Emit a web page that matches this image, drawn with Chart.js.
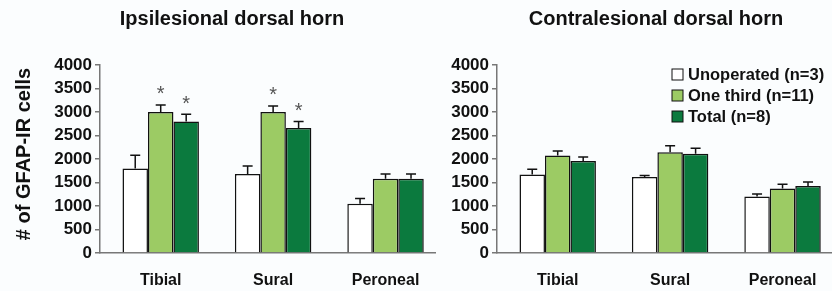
<!DOCTYPE html>
<html><head><meta charset="utf-8">
<script src="https://cdn.jsdelivr.net/npm/chart.js@4.4.1/dist/chart.umd.min.js"></script>
<style>
html,body{margin:0;padding:0;background:#fbfdfe;}
#wrap{position:relative;width:832px;height:291px;}
#c1{position:absolute;left:0;top:0;}
#c2{position:absolute;left:440px;top:0;}
</style></head>
<body><div id="wrap">
<canvas id="c1" width="440" height="291"></canvas>
<canvas id="c2" width="392" height="291"></canvas>
</div>
<script>
const categories = ['Tibial', 'Sural', 'Peroneal'];
const seriesNames = ['Unoperated (n=3)', 'One third (n=11)', 'Total (n=8)'];
const yTicks = [0, 500, 1000, 1500, 2000, 2500, 3000, 3500, 4000];
const yAxisTitle = '# of GFAP-IR cells';

// Ipsilesional dorsal horn
const ipsiUnoperated = [1800, 1680, 1050];
const ipsiOneThird   = [3000, 3000, 1580];
const ipsiTotal      = [2800, 2660, 1580];
const ipsiUnoperatedErr = [2080, 1850, 1160];
const ipsiOneThirdErr   = [3150, 3130, 1680];
const ipsiTotalErr      = [2950, 2800, 1680];
const ipsiSigUnoperated = [false, false, false];
const ipsiSigOneThird   = [true, true, false];
const ipsiSigTotal      = [true, true, false];

// Contralesional dorsal horn
const contraUnoperated = [1670, 1615, 1200];
const contraOneThird   = [2075, 2145, 1370];
const contraTotal      = [1955, 2110, 1425];
const contraUnoperatedErr = [1780, 1650, 1255];
const contraOneThirdErr   = [2170, 2280, 1465];
const contraTotalErr      = [2040, 2230, 1510];

const categoryIndex = categories.map((c, i) => i);
const colors = ['#ffffff', '#9ccb64', '#0b7a3e'];
const FONT = "'Liberation Sans', Arial, sans-serif";

const errPlugin = {
  id: 'errbars',
  afterDatasetsDraw(chart) {
    const ctx = chart.ctx, ys = chart.scales.y;
    chart.data.datasets.forEach((ds, di) => {
      const meta = chart.getDatasetMeta(di);
      meta.data.forEach((el, i) => {
        const yTop = el.y;
        const yErr = ys.getPixelForValue(ds.err[i]);
        ctx.save();
        ctx.strokeStyle = '#111';
        ctx.lineWidth = 1.5;
        ctx.beginPath();
        ctx.moveTo(el.x, yTop); ctx.lineTo(el.x, yErr);
        ctx.moveTo(el.x - 5, yErr); ctx.lineTo(el.x + 5, yErr);
        ctx.stroke();
        if (ds.sig && ds.sig[i]) {
          ctx.fillStyle = '#555';
          ctx.font = '20px ' + FONT;
          ctx.textAlign = 'center';
          ctx.textBaseline = 'middle';
          ctx.fillText('*', el.x, yErr - 10);
        }
        ctx.restore();
      });
    });
  }
};

const decoPlugin = {
  id: 'deco',
  afterDraw(chart) {
    const o = chart.options.plugins.deco;
    const ctx = chart.ctx;
    ctx.save();
    ctx.fillStyle = '#111';
    ctx.font = 'bold 20px ' + FONT;
    ctx.textAlign = 'center';
    ctx.textBaseline = 'middle';
    ctx.fillText(o.title, o.titleX, 19);
    if (o.yTitle) {
      ctx.save();
      ctx.translate(24, (chart.chartArea.top + chart.chartArea.bottom) / 2 - 5);
      ctx.rotate(-Math.PI / 2);
      ctx.font = 'bold 20px ' + FONT;
      ctx.fillText(yAxisTitle, 0, 0);
      ctx.restore();
    }
    if (o.legend) {
      ctx.font = 'bold 16.5px ' + FONT;
      ctx.textAlign = 'left';
      chart.data.datasets.forEach((ds, i) => {
        const y = o.legendY + i * 21;
        ctx.fillStyle = ds.backgroundColor;
        ctx.fillRect(o.legendX, y - 5, 11, 11);
        ctx.strokeStyle = '#111';
        ctx.lineWidth = 1;
        ctx.strokeRect(o.legendX, y - 5, 11, 11);
        ctx.fillStyle = '#111';
        ctx.fillText(ds.label, o.legendX + 16, y + 1);
      });
    }
    ctx.restore();
  }
};

function makeChart(id, vals, errs, sigs, opts) {
  return new Chart(document.getElementById(id), {
    type: 'bar',
    data: {
      labels: categoryIndex,
      datasets: vals.map((v, i) => ({
        label: seriesNames[i],
        data: v,
        err: errs[i],
        sig: sigs ? sigs[i] : null,
        backgroundColor: colors[i],
        borderColor: '#111',
        borderWidth: 1.5,
        borderSkipped: 'bottom',
        categoryPercentage: 0.68,
        barPercentage: 1.0
      }))
    },
    options: {
      responsive: false,
      animation: false,
      layout: { padding: { top: 65, right: opts.padRight, left: 0, bottom: 0 } },
      plugins: {
        legend: { display: false },
        tooltip: { enabled: false },
        deco: opts.deco
      },
      scales: {
        x: {
          type: 'linear',
          offset: false,
          bounds: 'ticks',
          min: -0.54, max: 2.44,
          afterBuildTicks: s => { s.ticks = categoryIndex.map(v => ({ value: v })); },
          grid: { display: false },
          border: { color: '#777', width: 1.5 },
          ticks: { color: '#111', font: { family: FONT, size: 16, weight: 'bold' }, padding: 10,
                   callback: v => categories[v] },
          afterFit: s => { s.height = 38; }
        },
        y: {
          min: 0, max: 4000,
          afterBuildTicks: s => { s.ticks = yTicks.map(v => ({ value: v })); },
          grid: { drawOnChartArea: false, drawTicks: true, tickLength: 5, color: '#777', lineWidth: 1.5 },
          border: { color: '#777', width: 1.5 },
          ticks: { color: '#111', font: { family: FONT, size: 17, weight: 'bold' }, padding: 3,
                   callback: v => String(v) },
          afterFit: s => { s.width = opts.yWidth; }
        }
      }
    },
    plugins: [errPlugin, decoPlugin]
  });
}

makeChart('c1', [ipsiUnoperated, ipsiOneThird, ipsiTotal],
  [ipsiUnoperatedErr, ipsiOneThirdErr, ipsiTotalErr],
  [ipsiSigUnoperated, ipsiSigOneThird, ipsiSigTotal],
  { padRight: 5, yWidth: 100, deco: { title: 'Ipsilesional dorsal horn', titleX: 232, yTitle: true } });

makeChart('c2', [contraUnoperated, contraOneThird, contraTotal],
  [contraUnoperatedErr, contraOneThirdErr, contraTotalErr],
  null,
  { padRight: 0, yWidth: 57,
    deco: { title: 'Contralesional dorsal horn', titleX: 216, legend: true, legendX: 232, legendY: 74 } });
</script>
</body></html>
